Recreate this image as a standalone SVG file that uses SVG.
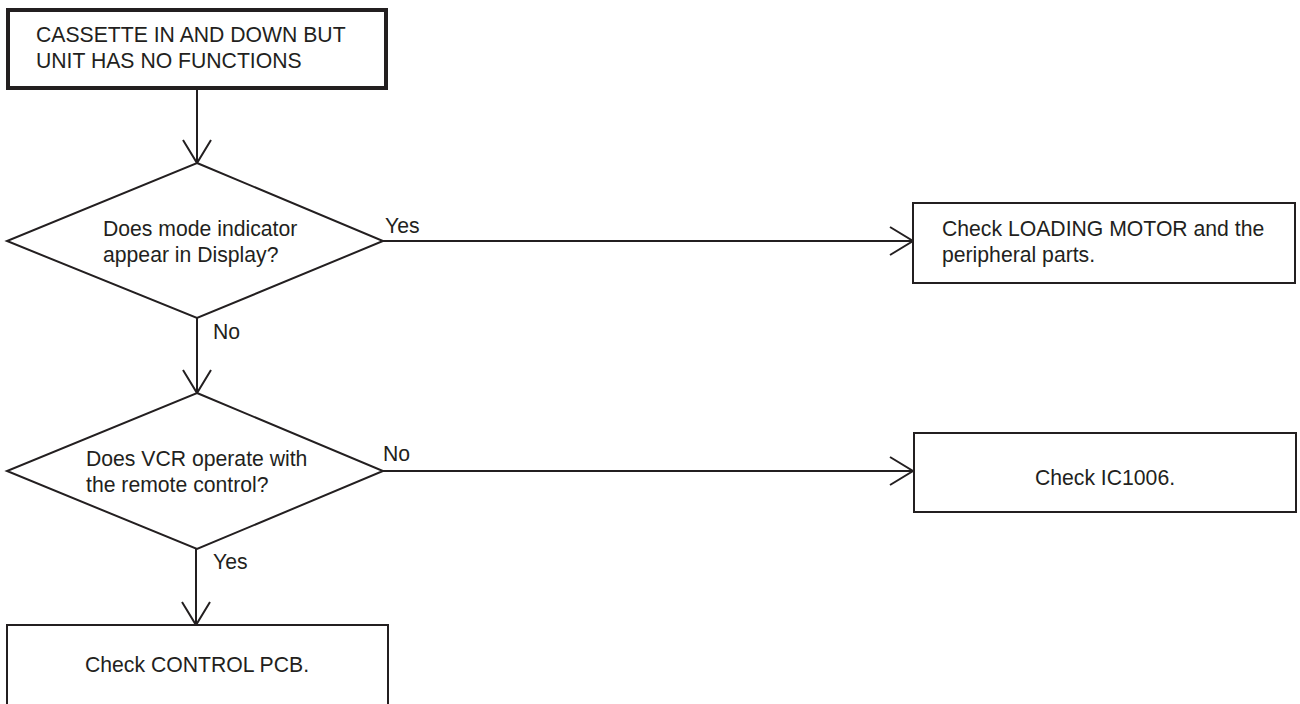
<svg xmlns="http://www.w3.org/2000/svg" width="1300" height="704" viewBox="0 0 1300 704">
<style>
text{font-family:"Liberation Sans",Arial,sans-serif;font-size:21.2px;fill:#231f20}
.box{fill:#fff;stroke:#231f20;stroke-width:2}
.thick{stroke-width:4}
.edge{fill:none;stroke:#231f20;stroke-width:2}
.c{text-anchor:middle}
</style>
<defs>
<marker id="ah" markerUnits="userSpaceOnUse" viewBox="-26 -16 28 32" markerWidth="28" markerHeight="32" refX="0" refY="0" orient="auto" overflow="visible">
<path d="M-23,-14 L0,0 L-23,14" fill="none" stroke="#231f20" stroke-width="2"/>
</marker>
</defs>
<rect width="1300" height="704" fill="#fff"/>
<g id="connectors">
<path class="edge" d="M197,90 L197,163" marker-end="url(#ah)"/>
<path class="edge" d="M197,318 L197,393" marker-end="url(#ah)"/>
<path class="edge" d="M383,241 L913,241" marker-end="url(#ah)"/>
<path class="edge" d="M383,471 L913,471" marker-end="url(#ah)"/>
<path class="edge" d="M196,549 L196,625" marker-end="url(#ah)"/>
<text x="385" y="233">Yes</text>
<text x="213" y="339">No</text>
<text x="383" y="461">No</text>
<text x="213" y="569">Yes</text>
</g>
<g id="start">
<rect class="box thick" x="8" y="10" width="378" height="78"/>
<text x="36" y="42">CASSETTE IN AND DOWN BUT</text>
<text x="36" y="68">UNIT HAS NO FUNCTIONS</text>
</g>
<g id="q1">
<polygon class="box" points="197,163 383,241 197,318 7,241"/>
<text x="103" y="236">Does mode indicator</text>
<text x="103" y="262">appear in Display?</text>
</g>
<g id="loading">
<rect class="box" x="913" y="203" width="382" height="80"/>
<text x="942" y="236">Check LOADING MOTOR and the</text>
<text x="942" y="262">peripheral parts.</text>
</g>
<g id="q2">
<polygon class="box" points="197,393 383,471 197,549 7,471"/>
<text x="86" y="466">Does VCR operate with</text>
<text x="86" y="492">the remote control?</text>
</g>
<g id="ic1006">
<rect class="box" x="914" y="433" width="382" height="79"/>
<text class="c" x="1105" y="485">Check IC1006.</text>
</g>
<g id="controlpcb">
<rect class="box" x="7" y="625" width="381" height="95"/>
<text class="c" x="197" y="672">Check CONTROL PCB.</text>
</g>
</svg>
